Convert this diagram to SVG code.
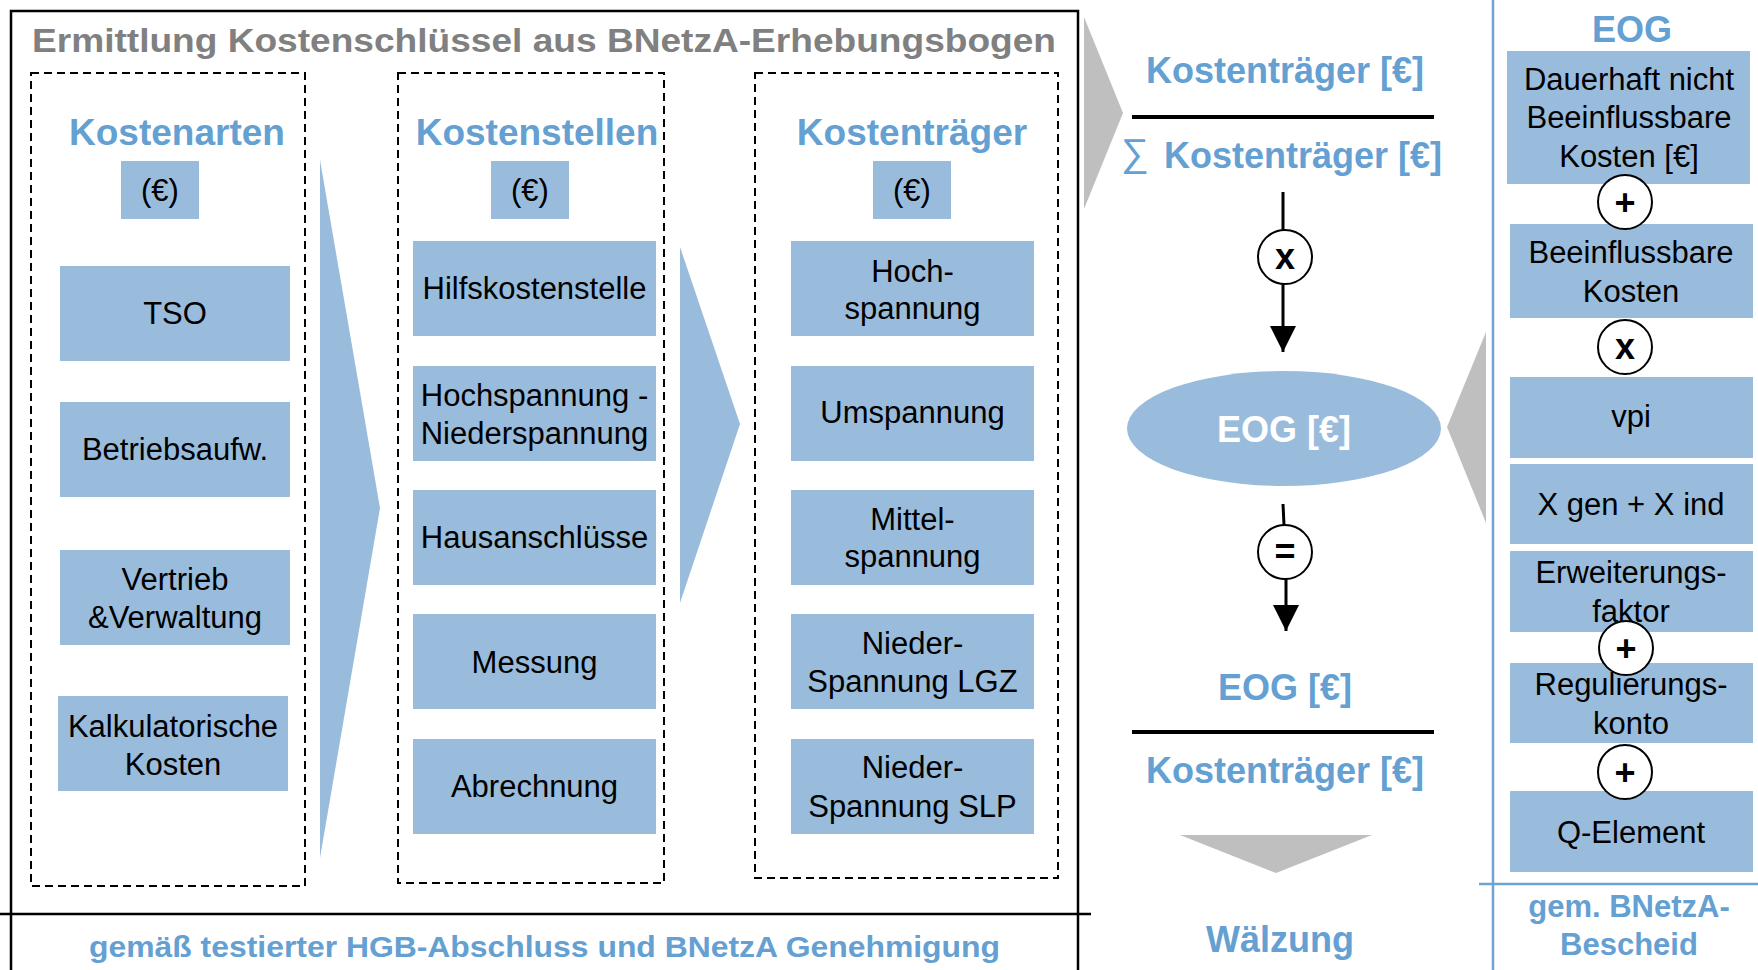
<svg xmlns="http://www.w3.org/2000/svg" width="1758" height="970" viewBox="0 0 1758 970">
<style>
.box{fill:#99BCDC}
.t{font-family:"Liberation Sans",Arial,sans-serif;font-size:31px;fill:#000;text-anchor:middle}
.h{font-family:"Liberation Sans",Arial,sans-serif;font-size:37px;font-weight:bold;fill:#64A0D2;text-anchor:middle}
.hb{font-family:"Liberation Sans",Arial,sans-serif;font-weight:bold;fill:#64A0D2;text-anchor:middle}
.dash{fill:none;stroke:#000;stroke-width:2;stroke-dasharray:8 5}
.op{fill:#fff;stroke:#000;stroke-width:2}
.opt{font-family:"Liberation Sans",Arial,sans-serif;font-size:36px;font-weight:bold;fill:#000;text-anchor:middle}
.frame{stroke:#000;stroke-width:2.5;fill:none}
.tri{fill:#99BCDC}
.gray{fill:#BFBFBF}
.conn{stroke:#000;stroke-width:3;fill:none}
</style>
<defs>
<marker id="ah" markerUnits="userSpaceOnUse" markerWidth="26" markerHeight="26" viewBox="0 0 26 26" refX="26" refY="13" orient="auto">
<path d="M0,0 L26,13 L0,26 z" fill="#000"/>
</marker>
</defs>
<rect width="1758" height="970" fill="#fff"/>

<!-- frame -->
<g id="frame">
<path class="frame" d="M11,970 V11 H1078 V970"/>
<line class="frame" x1="0" y1="914" x2="1091" y2="914"/>
<line x1="1493" y1="0" x2="1493" y2="970" stroke="#6FA3D3" stroke-width="2.5"/>
<line x1="1479" y1="884" x2="1758" y2="884" stroke="#6FA3D3" stroke-width="2.5"/>
</g>

<text x="32" y="52" font-family="Liberation Sans,Arial,sans-serif" font-size="33" font-weight="bold" fill="#808080" textLength="1024" lengthAdjust="spacingAndGlyphs">Ermittlung Kostenschlüssel aus BNetzA-Erhebungsbogen</text>
<text x="89" y="957" font-family="Liberation Sans,Arial,sans-serif" font-size="29" font-weight="bold" fill="#64A0D2" textLength="911" lengthAdjust="spacingAndGlyphs">gemäß testierter HGB-Abschluss und BNetzA Genehmigung</text>

<!-- dashed columns -->
<rect class="dash" x="31" y="73" width="274" height="813"/>
<rect class="dash" x="398" y="73" width="266" height="810"/>
<rect class="dash" x="755" y="73" width="303" height="805"/>

<text class="h" x="177" y="145">Kostenarten</text>
<text class="h" x="537" y="145">Kostenstellen</text>
<text class="h" x="912" y="145">Kostenträger</text>

<g id="eur1"><rect class="box" x="121" y="161" width="78" height="58"/><text class="t" x="160" y="201">(€)</text></g>
<g id="eur2"><rect class="box" x="491" y="161" width="78" height="58"/><text class="t" x="530" y="201">(€)</text></g>
<g id="eur3"><rect class="box" x="873" y="161" width="78" height="58"/><text class="t" x="912" y="201">(€)</text></g>

<!-- Kostenarten -->
<g id="tso"><rect class="box" x="60" y="266" width="230" height="95"/><text class="t" x="175" y="324">TSO</text></g>
<g id="betrieb"><rect class="box" x="60" y="402" width="230" height="95"/><text class="t" x="175" y="460">Betriebsaufw.</text></g>
<g id="vertrieb"><rect class="box" x="60" y="550" width="230" height="95"/><text class="t" x="175" y="590">Vertrieb</text><text class="t" x="175" y="628">&amp;Verwaltung</text></g>
<g id="kalk"><rect class="box" x="58" y="696" width="230" height="95"/><text class="t" x="173" y="737">Kalkulatorische</text><text class="t" x="173" y="775">Kosten</text></g>

<!-- Kostenstellen -->
<g id="hilfs"><rect class="box" x="413" y="241" width="243" height="95"/><text class="t" x="534.5" y="299">Hilfskostenstelle</text></g>
<g id="hsns"><rect class="box" x="413" y="366" width="243" height="95"/><text class="t" x="534.5" y="406">Hochspannung -</text><text class="t" x="534.5" y="444">Niederspannung</text></g>
<g id="haus"><rect class="box" x="413" y="490" width="243" height="95"/><text class="t" x="534.5" y="548">Hausanschlüsse</text></g>
<g id="messung"><rect class="box" x="413" y="614" width="243" height="95"/><text class="t" x="534.5" y="673">Messung</text></g>
<g id="abrechnung"><rect class="box" x="413" y="739" width="243" height="95"/><text class="t" x="534.5" y="797">Abrechnung</text></g>

<!-- Kostentraeger -->
<g id="hs"><rect class="box" x="791" y="241" width="243" height="95"/><text class="t" x="912.5" y="282">Hoch-</text><text class="t" x="912.5" y="319">spannung</text></g>
<g id="us"><rect class="box" x="791" y="366" width="243" height="95"/><text class="t" x="912.5" y="423">Umspannung</text></g>
<g id="ms"><rect class="box" x="791" y="490" width="243" height="95"/><text class="t" x="912.5" y="530">Mittel-</text><text class="t" x="912.5" y="567">spannung</text></g>
<g id="nslgz"><rect class="box" x="791" y="614" width="243" height="95"/><text class="t" x="912.5" y="654">Nieder-</text><text class="t" x="912.5" y="692">Spannung LGZ</text></g>
<g id="nsslp"><rect class="box" x="791" y="739" width="243" height="95"/><text class="t" x="912.5" y="778">Nieder-</text><text class="t" x="912.5" y="817">Spannung SLP</text></g>

<!-- big arrows -->
<polygon class="tri" points="320,160 380,508 320,858"/>
<polygon class="tri" points="680,247 740,424 680,603"/>
<polygon class="gray" points="1084,17 1123,113 1084,209"/>
<polygon class="gray" points="1486,332 1447,427 1486,523"/>
<polygon class="gray" points="1180,835 1372,835 1276,873"/>

<!-- middle formula -->
<g id="formula1">
<text class="hb" x="1285" y="83" font-size="36">Kostenträger [€]</text>
<line x1="1132" y1="117" x2="1434" y2="117" stroke="#000" stroke-width="4"/>
<text class="hb" x="1303" y="168" font-size="36">Kostenträger [€]</text>
<text x="1121" y="166" font-family="Liberation Sans,Arial,sans-serif" font-size="39" fill="#64A0D2">∑</text>
</g>

<g id="connectors">
<line class="conn" x1="1283" y1="192" x2="1283" y2="230"/>
<line class="conn" x1="1283" y1="284" x2="1283" y2="352" marker-end="url(#ah)"/>
<line class="conn" x1="1283" y1="504" x2="1284" y2="525"/>
<line class="conn" x1="1286" y1="579" x2="1286" y2="631" marker-end="url(#ah)"/>
</g>

<g id="op-mul1"><circle class="op" cx="1285" cy="257" r="27"/><text class="opt" x="1285" y="269">x</text></g>
<g id="op-eq"><circle class="op" cx="1285" cy="552" r="27"/><text class="opt" x="1285" y="564">=</text></g>

<g id="eog-ellipse"><ellipse cx="1284" cy="428.5" rx="157" ry="57.5" fill="#99BCDC"/><text class="hb" x="1284" y="442" font-size="36" style="fill:#fff">EOG [€]</text></g>

<g id="formula2">
<text class="hb" x="1285" y="700" font-size="36">EOG [€]</text>
<line x1="1132" y1="732" x2="1434" y2="732" stroke="#000" stroke-width="4"/>
<text class="hb" x="1285" y="783" font-size="36">Kostenträger [€]</text>
</g>
<text class="hb" x="1280" y="952" font-size="36">Wälzung</text>

<!-- right column -->
<text class="hb" x="1632" y="42" font-size="36">EOG</text>
<g id="dnbk"><rect class="box" x="1507" y="51" width="243" height="133"/><text class="t" x="1629" y="90">Dauerhaft nicht</text><text class="t" x="1629" y="128">Beeinflussbare</text><text class="t" x="1629" y="167">Kosten [€]</text></g>
<g id="bk"><rect class="box" x="1510" y="224" width="243" height="94"/><text class="t" x="1631" y="263">Beeinflussbare</text><text class="t" x="1631" y="302">Kosten</text></g>
<g id="vpi"><rect class="box" x="1510" y="377" width="243" height="81"/><text class="t" x="1631" y="427">vpi</text></g>
<g id="xgen"><rect class="box" x="1510" y="464" width="243" height="80"/><text class="t" x="1631" y="515">X gen + X ind</text></g>
<g id="erw"><rect class="box" x="1510" y="551" width="243" height="81"/><text class="t" x="1631" y="583">Erweiterungs-</text><text class="t" x="1631" y="622">faktor</text></g>
<g id="reg"><rect class="box" x="1510" y="663" width="243" height="80"/><text class="t" x="1631" y="695">Regulierungs-</text><text class="t" x="1631" y="734">konto</text></g>
<g id="qel"><rect class="box" x="1510" y="791" width="243" height="81"/><text class="t" x="1631" y="843">Q-Element</text></g>

<g id="op-plus1"><circle class="op" cx="1625" cy="202" r="27"/><text class="opt" x="1625" y="215">+</text></g>
<g id="op-mul2"><circle class="op" cx="1625" cy="347" r="27"/><text class="opt" x="1625" y="359">x</text></g>
<g id="op-plus2"><circle class="op" cx="1626" cy="648" r="27"/><text class="opt" x="1626" y="661">+</text></g>
<g id="op-plus3"><circle class="op" cx="1625" cy="772" r="27"/><text class="opt" x="1625" y="785">+</text></g>

<text class="hb" x="1629" y="917" font-size="31">gem. BNetzA-</text>
<text class="hb" x="1629" y="955" font-size="31">Bescheid</text>
</svg>
